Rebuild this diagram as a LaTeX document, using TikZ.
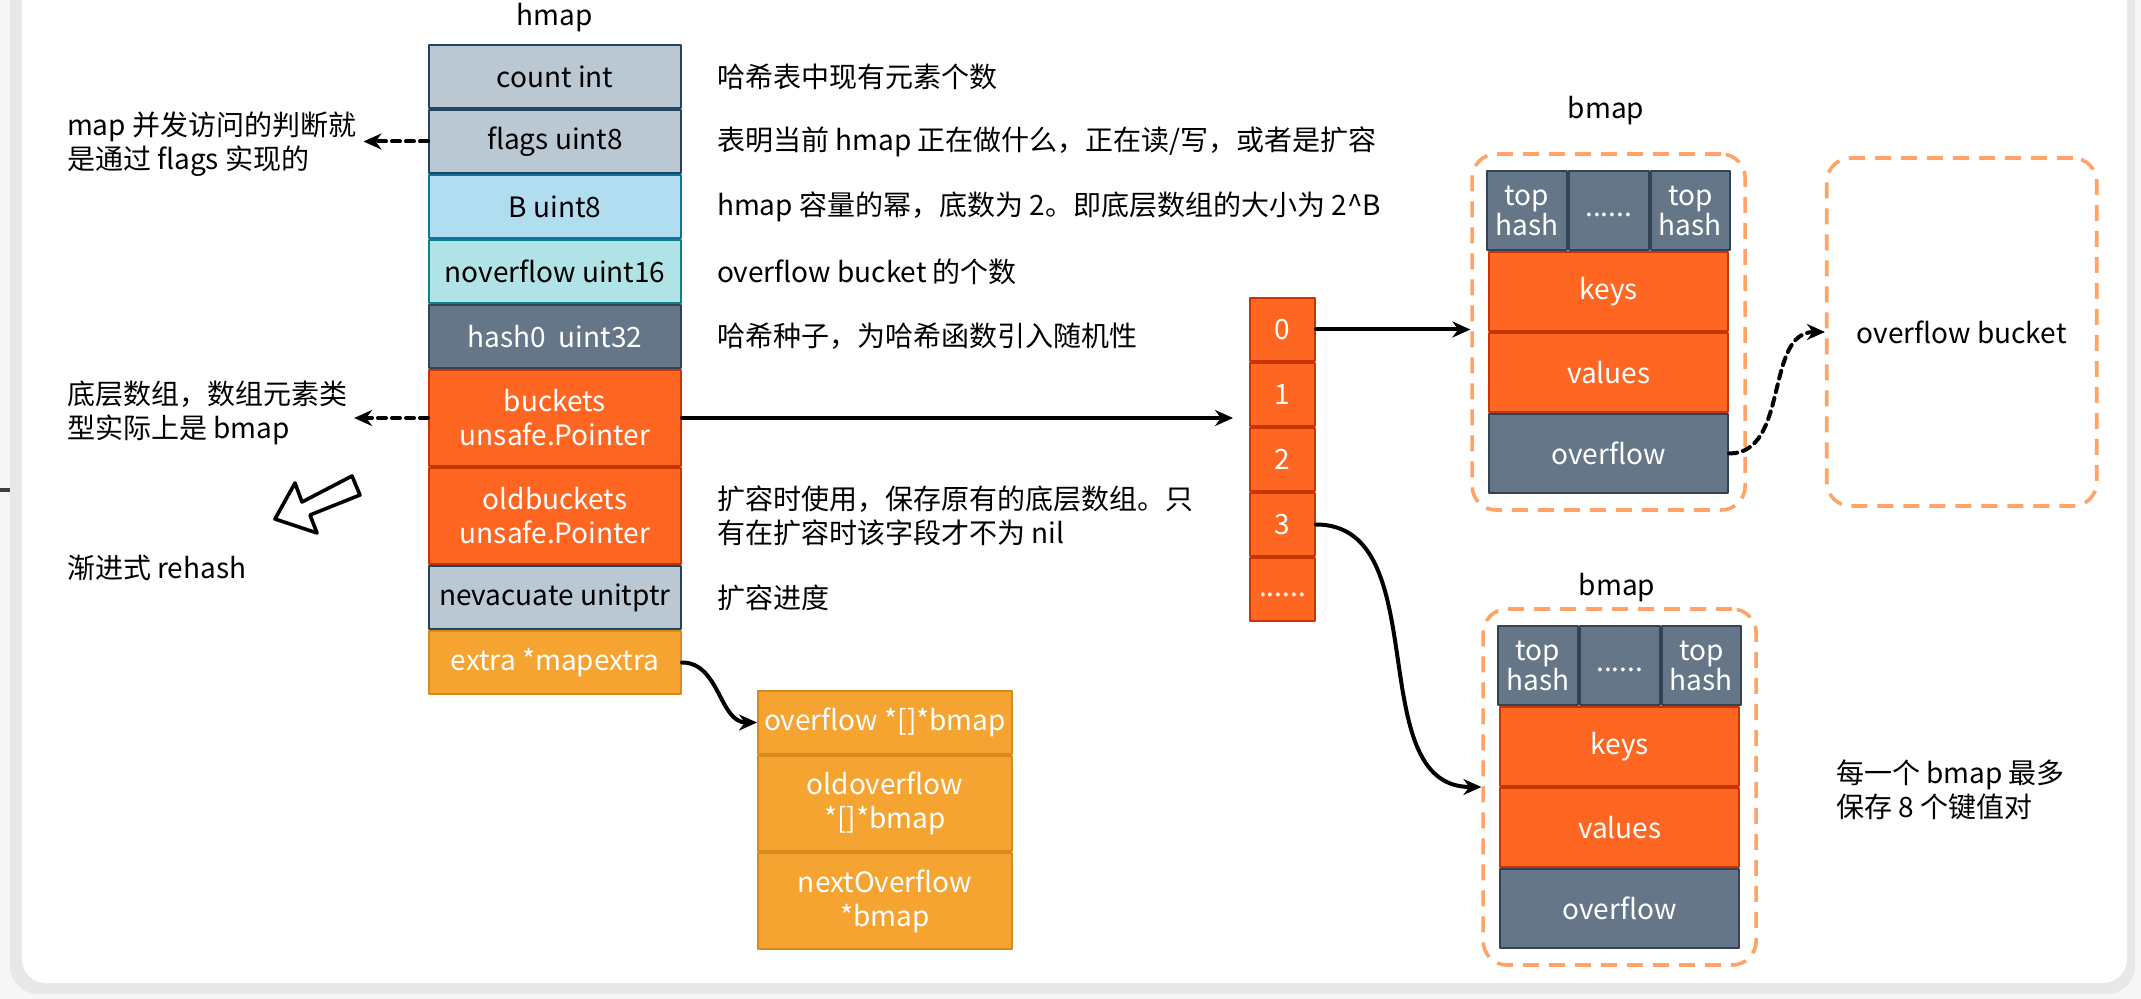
\documentclass[tikz,border=0pt]{standalone}
\usepackage{fontspec}
\setmainfont{Noto Sans CJK SC}
\usetikzlibrary{positioning, fit, arrows.meta}

\definecolor{slate}{HTML}{647687}
\definecolor{slateline}{HTML}{314354}
\definecolor{steel}{HTML}{BAC8D3}
\definecolor{steelline}{HTML}{23445D}
\definecolor{sky}{HTML}{B1DDF0}
\definecolor{skyline}{HTML}{10739E}
\definecolor{aqua}{HTML}{B0E3E6}
\definecolor{aqualine}{HTML}{0E8088}
\definecolor{flame}{HTML}{FF6622}
\definecolor{flameline}{HTML}{C73500}
\definecolor{amber}{HTML}{F5A431}
\definecolor{amberline}{HTML}{D98A1E}
\definecolor{dashline}{HTML}{FFA366}
\definecolor{frameback}{HTML}{F6F6F6}
\definecolor{frameedge}{HTML}{E8E8E8}

\begin{document}
\begin{tikzpicture}[x=0.5pt, y=-0.5pt, line join=round,
    font=\fontsize{14pt}{17pt}\selectfont,
    field/.style={draw, line width=1pt, minimum width=126pt, minimum height=31.5pt, inner sep=0pt, align=center},
    twoline/.style={minimum height=48pt},
    cell/.style={draw=flameline, fill=flame, text=white, line width=1pt, minimum width=32.5pt, minimum height=31.5pt, inner sep=0pt},
    slot/.style={draw, line width=1pt, minimum width=119.5pt, minimum height=39.5pt, inner sep=0pt, text=white, align=center},
    hashslot/.style={slot, minimum width=39.83pt, fill=slate, draw=slateline, font=\fontsize{14pt}{15pt}\selectfont},
    note/.style={align=left},
    bucketframe/.style={draw=dashline, line width=1.8pt, dash pattern=on 8pt off 5pt, rounded corners=12pt},
    link/.style={line width=2pt, line cap=round, -{Stealth[length=9pt, width=8pt]}},
    dashlink/.style={link, dash pattern=on 4pt off 3pt}]

    \useasboundingbox (0,0) rectangle (2141,999);

    % Screenshot frame
    \fill[frameback] (0,0) rectangle (2141,999);
    \fill[frameedge, rounded corners=14pt] (10,-40) rectangle (2135,994);
    \fill[white, rounded corners=12pt] (22,-40) rectangle (2127,983);
    \draw[line width=2pt, black!75] (0,490) -- (10,490);

    % hmap struct
    \node (hmaplabel) at (555,18) {hmap};
    \node[field, fill=steel, draw=steelline] (count) at (555,76.5) {count int};
    \node[field, fill=steel, draw=steelline, below=0pt of count] (flags) {flags uint8};
    \node[field, fill=sky, draw=skyline, below=0pt of flags] (B) {B uint8};
    \node[field, fill=aqua, draw=aqualine, below=0pt of B] (noverflow) {noverflow uint16};
    \node[field, fill=slate, draw=slateline, text=white, below=0pt of noverflow] (hash0) {hash0\ \ uint32};
    \node[field, twoline, fill=flame, draw=flameline, text=white, below=0pt of hash0] (buckets) {buckets\\unsafe.Pointer};
    \node[field, twoline, fill=flame, draw=flameline, text=white, below=0pt of buckets] (oldbuckets) {oldbuckets\\unsafe.Pointer};
    \node[field, fill=steel, draw=steelline, below=0pt of oldbuckets] (nevacuate) {nevacuate unitptr};
    \node[field, fill=amber, draw=amberline, text=white, below=0pt of nevacuate] (extra) {extra *mapextra};

    % Field notes (right)
    \node[note, right=14pt of count] (countnote) {哈希表中现有元素个数};
    \node[note, right=14pt of flags] (flagsdesc) {表明当前 hmap 正在做什么，正在读/写，或者是扩容};
    \node[note, right=14pt of B] (Bnote) {hmap 容量的幂，底数为 2。即底层数组的大小为 2\textasciicircum B};
    \node[note, right=14pt of noverflow] (noverflownote) {overflow bucket 的个数};
    \node[note, right=14pt of hash0] (hash0note) {哈希种子，为哈希函数引入随机性};
    \node[note, right=14pt of oldbuckets] (oldbucketsnote) {扩容时使用，保存原有的底层数组。只\\有在扩容时该字段才不为 nil};
    \node[note, right=14pt of nevacuate] (nevacuatenote) {扩容进度};

    % Notes (left)
    \node[note, anchor=west] (flagsnote) at (60,144) {map 并发访问的判断就\\是通过 flags 实现的};
    \node[note, anchor=west] (bucketsnote) at (60,413) {底层数组，数组元素类\\型实际上是 bmap};
    \node[note, anchor=west] (rehashnote) at (60,568) {渐进式 rehash};
    \draw[dashlink] (flags.west) -- (flags.west -| flagsnote.east);
    \draw[dashlink] (buckets.west) -- (buckets.west -| bucketsnote.east);

    % Hollow arrow for rehash
    \draw[line width=1.8pt, fill=white] (275,519) -- (295,483) -- (302,502) -- (352,476)
        -- (360,495) -- (310,515) -- (317,533) -- cycle;

    % mapextra struct
    \node[field, fill=amber, draw=amberline, text=white, minimum width=127pt] (xoverflow) at (885,722.5) {overflow *[]*bmap};
    \node[field, fill=amber, draw=amberline, text=white, minimum width=127pt, minimum height=47.5pt, below=0pt of xoverflow] (xold) {oldoverflow\\*[]*bmap};
    \node[field, fill=amber, draw=amberline, text=white, minimum width=127pt, twoline, below=0pt of xold] (xnext) {nextOverflow\\*bmap};
    \draw[link] (extra.east) to[out=0, in=180] (xoverflow.west);

    % Bucket array
    \node[cell] (a0) at (1282.5,329.5) {0};
    \node[cell, below=0pt of a0] (a1) {1};
    \node[cell, below=0pt of a1] (a2) {2};
    \node[cell, below=0pt of a2] (a3) {3};
    \node[cell, below=0pt of a3] (adots) {\strut......};
    \draw[link, shorten >=8pt] (buckets.east) -- (buckets.east -| a1.west);

    % First bmap
    \node[hashslot] (th1a) at (1527,210.5) {top\\hash};
    \node[hashslot, right=0pt of th1a] (th1b) {\strut......};
    \node[hashslot, right=0pt of th1b] (th1c) {top\\hash};
    \node[slot, fill=flame, draw=flameline, below=0pt of th1b] (keys1) {keys};
    \node[slot, fill=flame, draw=flameline, below=0pt of keys1] (values1) {values};
    \node[slot, fill=slate, draw=slateline, below=0pt of values1] (ovf1) {overflow};
    \node[bucketframe, inner xsep=7pt, inner ysep=8pt, fit=(th1a)(th1c)(ovf1)] (bmap1) {};
    \node (bmap1label) at (1606,111) {bmap};

    % Overflow bucket
    \node[bucketframe, minimum width=135pt, minimum height=174pt, right=39pt of bmap1] (ovbucket) {overflow bucket};

    % Second bmap
    \node[hashslot] (th2a) at (1538,665.5) {top\\hash};
    \node[hashslot, right=0pt of th2a] (th2b) {\strut......};
    \node[hashslot, right=0pt of th2b] (th2c) {top\\hash};
    \node[slot, fill=flame, draw=flameline, below=0pt of th2b] (keys2) {keys};
    \node[slot, fill=flame, draw=flameline, below=0pt of keys2] (values2) {values};
    \node[slot, fill=slate, draw=slateline, below=0pt of values2] (ovf2) {overflow};
    \node[bucketframe, inner xsep=7pt, inner ysep=8pt, fit=(th2a)(th2c)(ovf2)] (bmap2) {};
    \node (bmap2label) at (1617,588) {bmap};
    \node[note, anchor=west] (bmapnote) at (1829,790) {每一个 bmap 最多\\保存 8 个键值对};

    % Array to bmap links
    \draw[link] (a0.east) -- (a0.east -| bmap1.west);
    \draw[link] (a3.east) to[out=0, in=180] (bmap2.west);
    \draw[dashlink] (ovf1.east) to[out=0, in=180] (ovbucket.west);
\end{tikzpicture}
\end{document}
